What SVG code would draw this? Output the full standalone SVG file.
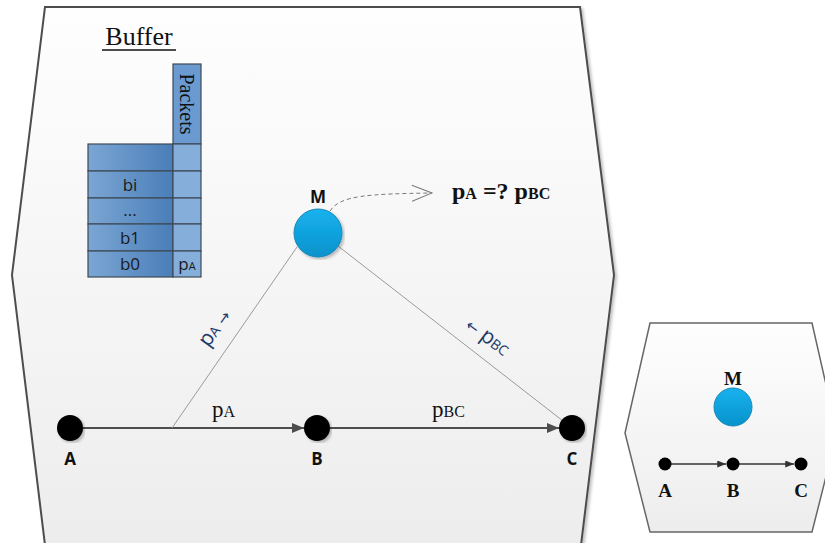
<svg xmlns="http://www.w3.org/2000/svg" width="825" height="543" viewBox="0 0 825 543">
<defs>
<style>
.frame{stroke:#4d4d4d;stroke-width:2;fill:url(#bg)}
.frame2{stroke:#666;stroke-width:1.5;fill:url(#bg)}
.cellL{fill:url(#cellg);stroke:#3f4a57;stroke-width:1.2}
.cellR{fill:#85aedb;stroke:#3f4a57;stroke-width:1.2}
.ct{font-family:"Open Sans","Liberation Sans",sans-serif;font-size:17px;fill:#1a1a1a;text-anchor:middle}
.node{fill:#000}
.nl{font-family:"Open Sans","Liberation Sans",sans-serif;font-weight:bold;font-size:17px;fill:#111;text-anchor:middle}
.snl{font-family:"Liberation Serif",serif;font-weight:bold;font-size:19px;fill:#111;text-anchor:middle}
.edge{stroke:#4d4d4d;stroke-width:2;fill:none}
.thin{stroke:#9a9a9a;stroke-width:1;fill:none}
.lbl{font-family:"Liberation Serif",serif;font-size:23px;fill:#111}
.rl{font-family:"Open Sans","Liberation Sans",sans-serif;fill:#1f3a6b}
.ar{font-family:"DejaVu Sans",sans-serif;font-size:15px}
</style>
<linearGradient id="bg" x1="0" y1="0" x2="0" y2="1">
<stop offset="0" stop-color="#fefefe"/>
<stop offset="1" stop-color="#ededed"/>
</linearGradient>
<linearGradient id="cellg" x1="0" y1="0" x2="1" y2="0">
<stop offset="0" stop-color="#7ba6d4"/>
<stop offset="1" stop-color="#4a7eb8"/>
</linearGradient>
<linearGradient id="ball" x1="0" y1="0" x2="0" y2="1">
<stop offset="0" stop-color="#18b2ee"/>
<stop offset="1" stop-color="#0792cc"/>
</linearGradient>
<marker id="arr" viewBox="0 0 12 10" refX="12" refY="5" markerWidth="12" markerHeight="10" markerUnits="userSpaceOnUse" orient="auto">
<path d="M0,0 L12,5 L0,10 z" fill="#4d4d4d"/>
</marker>
<marker id="sarr" viewBox="0 0 10 8" refX="10" refY="4" markerWidth="9" markerHeight="7" markerUnits="userSpaceOnUse" orient="auto">
<path d="M0,0 L10,4 L0,8 z" fill="#333"/>
</marker>
<marker id="open" viewBox="0 0 22 18" refX="21" refY="9" markerWidth="22" markerHeight="18" markerUnits="userSpaceOnUse" orient="auto">
<path d="M1,1 L21,9 L1,17" fill="none" stroke="#7a7a7a" stroke-width="1"/>
</marker>
<filter id="sh" x="-5%" y="-5%" width="110%" height="110%">
<feDropShadow dx="2" dy="2" stdDeviation="1.5" flood-color="#000" flood-opacity="0.25"/>
</filter>
</defs>

<g id="main-frame">
<polygon class="frame" filter="url(#sh)" points="45,7 580,7 614,275 581,545 45,545 12,275"/>
</g>
<g id="small-frame">
<polygon class="frame2" points="650,323 812,323 837,433 812,532 650,532 625,433"/>
</g>

<g id="buffer">
<text x="139" y="45" font-family="Liberation Serif,serif" font-size="26" fill="#111" text-anchor="middle">Buffer</text>
<line x1="102" y1="50" x2="176" y2="50" stroke="#111" stroke-width="1.3"/>
<rect x="173" y="64" width="28" height="80" fill="#6a9ad0" stroke="#3f4a57" stroke-width="1.2"/>
<text transform="translate(180,104) rotate(90)" font-family="Liberation Serif,serif" font-size="20" fill="#111" text-anchor="middle">Packets</text>
<rect class="cellL" x="88" y="144" width="85" height="27"/>
<rect class="cellR" x="173" y="144" width="28" height="27"/>
<rect class="cellL" x="88" y="171" width="85" height="27"/>
<rect class="cellR" x="173" y="171" width="28" height="27"/>
<rect class="cellL" x="88" y="198" width="85" height="26"/>
<rect class="cellR" x="173" y="198" width="28" height="26"/>
<rect class="cellL" x="88" y="224" width="85" height="27"/>
<rect class="cellR" x="173" y="224" width="28" height="27"/>
<rect class="cellL" x="88" y="251" width="85" height="26"/>
<rect class="cellR" x="173" y="251" width="28" height="26"/>
<text class="ct" x="130" y="191">bi</text>
<text class="ct" x="130" y="216">...</text>
<text class="ct" x="130" y="244">b1</text>
<text class="ct" x="130" y="270">b0</text>
<text class="ct" x="187" y="270" font-size="15">p<tspan font-size="11">A</tspan></text>
</g>

<g id="connectors">
<line class="edge" x1="83" y1="428" x2="304" y2="428" marker-end="url(#arr)"/>
<line class="edge" x1="330" y1="428" x2="559" y2="428" marker-end="url(#arr)"/>
<line class="thin" x1="172" y1="428" x2="297" y2="247"/>
<line class="thin" x1="338" y1="246" x2="572" y2="428"/>
<path d="M330,211 C340,195 370,194 432,193" fill="none" stroke="#7a7a7a" stroke-width="1" stroke-dasharray="4,3" marker-end="url(#open)"/>
<line x1="671" y1="464" x2="726" y2="464" stroke="#333" stroke-width="1.3" marker-end="url(#sarr)"/>
<line x1="739" y1="464" x2="794" y2="464" stroke="#333" stroke-width="1.3" marker-end="url(#sarr)"/>
</g>

<g id="labels">
<text class="lbl" x="212" y="417">p<tspan font-size="16">A</tspan></text>
<text class="lbl" x="432" y="417">p<tspan font-size="16">BC</tspan></text>
<text x="452" y="199" font-family="Liberation Serif,serif" font-weight="bold" font-size="24" fill="#111">p<tspan font-size="16">A</tspan> =? p<tspan font-size="16">BC</tspan></text>
<text class="rl" transform="translate(220,332) rotate(-54)" text-anchor="middle" font-size="21">p<tspan font-size="14">A</tspan> <tspan class="ar">→</tspan></text>
<text class="rl" transform="translate(484,342) rotate(37)" text-anchor="middle" font-size="21"><tspan class="ar">←</tspan> p<tspan font-size="14">BC</tspan></text>
</g>

<g id="node-M">
<text class="nl" x="318" y="203">M</text>
<circle cx="318" cy="233" r="24" fill="url(#ball)" stroke="#1787b5" stroke-width="1" filter="url(#sh)"/>
</g>
<g id="node-A">
<circle class="node" cx="70" cy="428" r="13" filter="url(#sh)"/>
<text class="nl" x="70" y="465">A</text>
</g>
<g id="node-B">
<circle class="node" cx="317" cy="428" r="13" filter="url(#sh)"/>
<text class="nl" x="317" y="465">B</text>
</g>
<g id="node-C">
<circle class="node" cx="572" cy="428" r="13" filter="url(#sh)"/>
<text class="nl" x="572" y="465">C</text>
</g>

<g id="small-M">
<text class="snl" x="733" y="385">M</text>
<circle cx="733" cy="407" r="19" fill="url(#ball)" stroke="#1787b5" stroke-width="1"/>
</g>
<g id="small-A">
<circle class="node" cx="665" cy="464" r="6.5"/>
<text class="snl" x="665" y="497">A</text>
</g>
<g id="small-B">
<circle class="node" cx="733" cy="464" r="6.5"/>
<text class="snl" x="733" y="497">B</text>
</g>
<g id="small-C">
<circle class="node" cx="801" cy="464" r="6.5"/>
<text class="snl" x="801" y="497">C</text>
</g>
</svg>
